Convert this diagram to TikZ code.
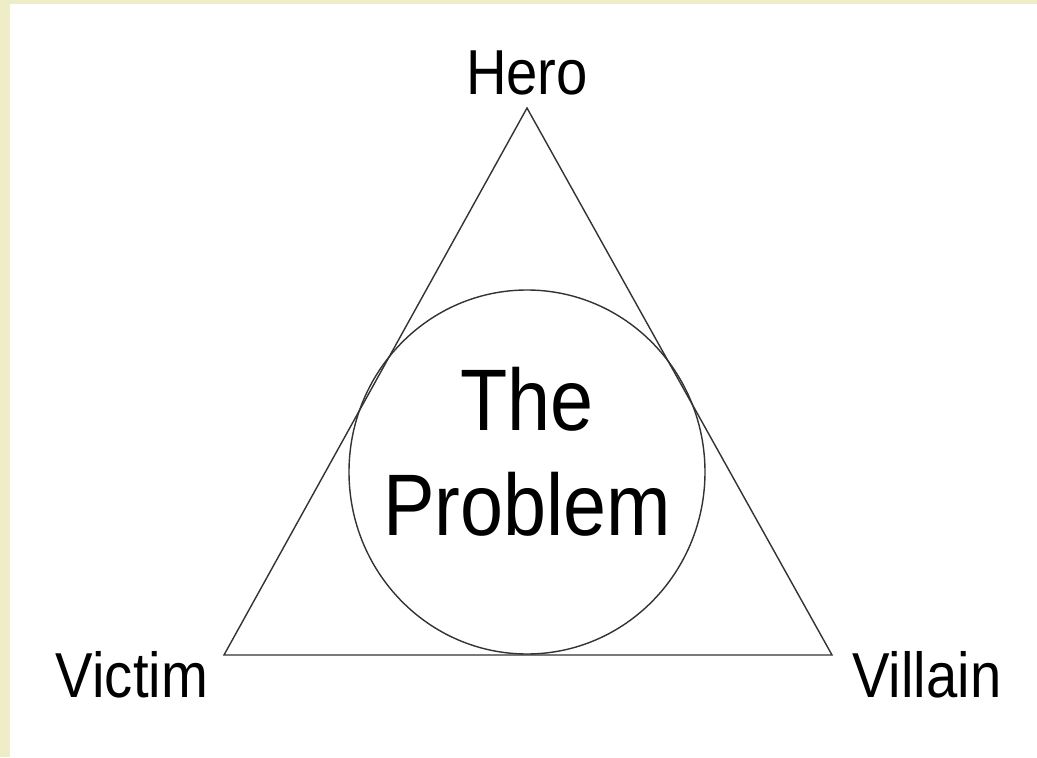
\documentclass[tikz,border=0pt]{standalone}
\usepackage{fontspec}
\setmainfont{Liberation Sans}
\usepackage{tikz}
\definecolor{frame}{RGB}{238,237,200}
\newcommand{\tall}[1]{\scalebox{1}[1.13]{#1}}

\begin{document}
\begin{tikzpicture}[
        role/.style={anchor=base, inner sep=0pt, font=\fontsize{32}{36}\selectfont},
        core/.style={anchor=base, inner sep=0pt, font=\fontsize{44}{50}\selectfont}]
        % Fons i marc
        \fill[frame] (0,0) rectangle (20.74,15.14);
        \fill[white] (0.20,0) rectangle (20.74,15.06);
        \useasboundingbox (0,0) rectangle (20.74,15.14);
        % Vertexs del triangle
        \coordinate (top) at (10.54,12.98);
        \coordinate (left) at (4.48,2.04);
        \coordinate (right) at (16.64,2.04);
        \draw[line width=0.8pt, black!80] (top) -- (left) -- (right) -- cycle;
        \draw[line width=0.8pt, black!80] (10.54,5.70) ellipse (3.56 and 3.64); % cercle inscrit
        \node[role] (hero) at (10.54,13.24) {\tall{Hero}};
        \node[role] (victim) at (2.64,1.20) {\tall{Victim}};
        \node[role] (villain) at (18.54,1.20) {\tall{Villain}};
        \node[core] (the) at (10.54,6.54) {\tall{The}};
        \node[core] (problem) at (10.54,4.44) {\tall{Problem}};
    \end{tikzpicture}
\end{document}
